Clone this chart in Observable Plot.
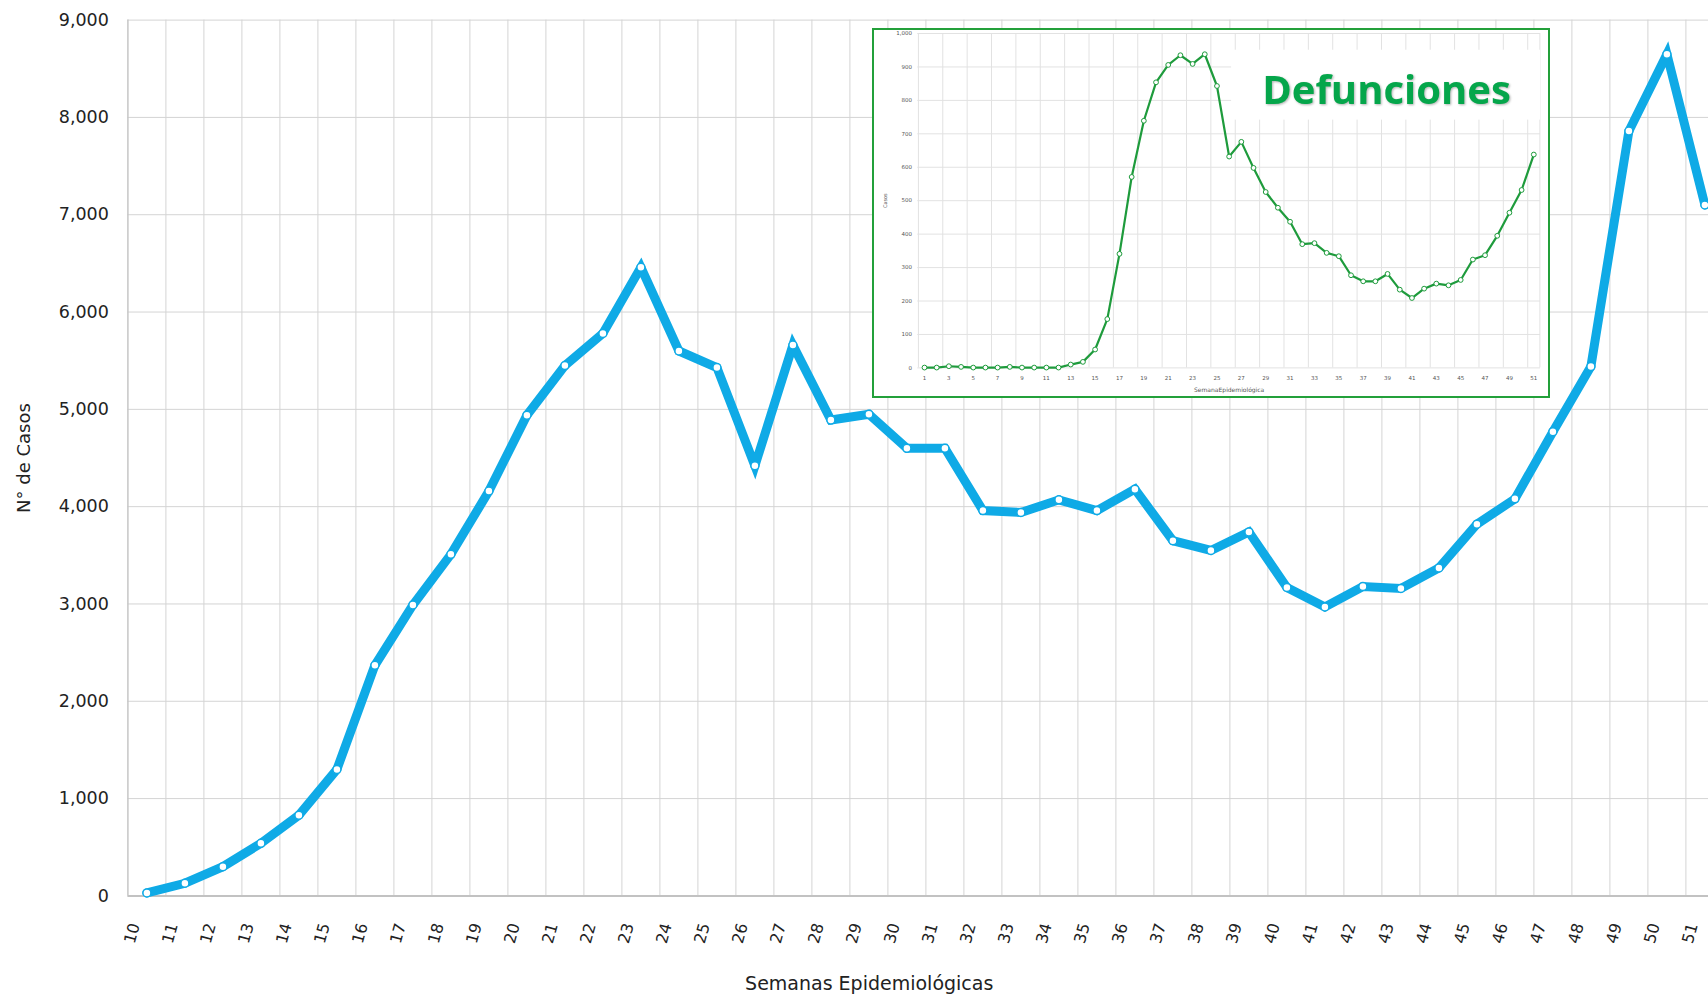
<!DOCTYPE html>
<html>
<head>
<meta charset="utf-8">
<script src="https://cdn.jsdelivr.net/npm/d3@7"></script>
<script src="https://cdn.jsdelivr.net/npm/@observablehq/plot@0.6"></script>
<style>
  html, body { margin: 0; padding: 0; background: #fff; overflow: hidden; }
  #wrap { position: relative; width: 1708px; height: 995px; overflow: hidden; background: #fff; }
  #main { position: absolute; left: 0; top: 0; }
  #inset { position: absolute; left: 871.7px; top: 28.3px; width: 678.3px; height: 370px; background: #fff; }
  #insetBorder { position: absolute; left: 871.7px; top: 28.3px; width: 678.3px; height: 370px;
    box-sizing: border-box; border: 2.5px solid #23A03A; pointer-events: none; }
  svg { display: block; }
</style>
</head>
<body>
<div id="wrap">
  <div id="main"></div>
  <div id="inset"></div>
  <div id="insetBorder"></div>
</div>
<script>
// ---- Main chart data: confirmed cases per epidemiological week ----
const weeks = [10,11,12,13,14,15,16,17,18,19,20,21,22,23,24,25,26,27,28,29,30,31,32,33,34,35,36,37,38,39,40,41,42,43,44,45,46,47,48,49,50,51];
const cases = [30,130,300,540,830,1300,2370,2990,3510,4160,4940,5450,5780,6460,5600,5430,4420,5660,4890,4950,4600,4600,3960,3940,4070,3960,4180,3650,3550,3740,3170,2970,3180,3160,3370,3820,4080,4770,5440,7860,8650,7100];
const yTicks = [0,1000,2000,3000,4000,5000,6000,7000,8000,9000];
const yTitle = "N° de Casos";
const xTitle = "Semanas Epidemiológicas";

// ---- Inset data: deaths per epidemiological week ----
const deathWeeks = [1,2,3,4,5,6,7,8,9,10,11,12,13,14,15,16,17,18,19,20,21,22,23,24,25,26,27,28,29,30,31,32,33,34,35,36,37,38,39,40,41,42,43,44,45,46,47,48,49,50,51];
const deaths = [1,1,5,3,1,1,1,3,1,1,1,1,10,18,55,146,341,571,739,854,906,935,909,938,843,632,676,598,526,479,437,370,373,344,334,277,259,259,281,234,209,237,252,247,263,324,337,395,464,532,638];
const deathTicks = [0,100,200,300,400,500,600,700,800,900,1000];
const deathXLabels = [1,3,5,7,9,11,13,15,17,19,21,23,25,27,29,31,33,35,37,39,41,43,45,47,49,51];
const insetTitle = "Defunciones";
const insetXTitle = "SemanaEpidemiológica";
const insetYTitle = "Casos";

const rows = weeks.map((w, i) => ({week: w, cases: cases[i]}));
const drows = deathWeeks.map((w, i) => ({week: w, deaths: deaths[i]}));

const blue = "#0FAAE6";
const green = "#1E9B3C";

// ---- Main plot ----
const W = 1708, H = 995;
const mL = 127.4, mT = 19.6, mB = 99.6;
const band = 38.0;
const main = Plot.plot({
  width: W, height: H,
  marginLeft: mL, marginRight: 0, marginTop: mT, marginBottom: mB,
  style: {fontFamily: "DejaVu Sans", fontSize: "17.5px", color: "#222", background: "white"},
  x: {type: "linear", domain: [weeks[0] - 0.5, weeks[0] - 0.5 + (W - mL) / band], axis: null},
  y: {domain: [0, 9000], ticks: yTicks, tickFormat: d3.format(","), tickSize: 0, tickPadding: 19, label: null},
  marks: [
    Plot.ruleY(yTicks.slice(1), {stroke: "#d4d4d4", strokeWidth: 1}),
    Plot.ruleX(weeks.map(w => w + 0.5), {stroke: "#d4d4d4", strokeWidth: 1}),
    Plot.ruleX([weeks[0] - 0.5], {stroke: "#c6c6c6", strokeWidth: 1.5}),
    Plot.ruleY([0], {stroke: "#c2c2c2", strokeWidth: 2}),
    Plot.text(weeks, {x: d => d, y: 0, text: d => String(d), rotate: -75, textAnchor: "end",
      lineAnchor: "middle", dx: -12, dy: 27.6, fontSize: 16, fill: "#222"}),
    Plot.text([yTitle], {frameAnchor: "left", rotate: -90, textAnchor: "middle", lineAnchor: "middle",
      dx: -103.4, fontSize: 18, fill: "#222"}),
    Plot.text([xTitle], {frameAnchor: "bottom", textAnchor: "middle", dx: -49, dy: 88.2, lineAnchor: "middle", fontSize: 19, fill: "#222"}),
    Plot.line(rows, {x: "week", y: "cases", stroke: blue, strokeWidth: 9, strokeLinejoin: "miter", strokeMiterlimit: 4}),
    Plot.dot(rows, {x: "week", y: "cases", r: 4, fill: "white", stroke: blue, strokeWidth: 1.5})
  ]
});
document.getElementById("main").appendChild(main);

// ---- Inset plot ----
const iW = 678, iH = 370;
const iL = 45.3, iR = 668, iT = 5.0, iB = 339.4;
const inset = Plot.plot({
  width: iW, height: iH,
  marginLeft: iL, marginRight: iW - iR, marginTop: iT, marginBottom: iH - iB,
  style: {fontFamily: "DejaVu Sans", fontSize: "5.5px", color: "#555", background: "white"},
  x: {type: "linear", domain: [0.45, 51.55], axis: null},
  y: {domain: [0, 1000], ticks: deathTicks, tickFormat: d3.format(","), tickSize: 0, tickPadding: 5.7, label: null},
  marks: [
    Plot.ruleY(deathTicks, {stroke: "#e2e2e2", strokeWidth: 1}),
    Plot.ruleX(deathXLabels.map(w => w - 0.5).concat([51.5]), {stroke: "#e2e2e2", strokeWidth: 1}),
    Plot.rect([{x1: 26.2, x2: 51.55, y1: 741, y2: 950}], {x1: "x1", x2: "x2", y1: "y1", y2: "y2", fill: "white"}),
    Plot.text(deathXLabels, {x: d => d, y: 0, text: d => String(d), dy: 10, fontSize: 5.5, fill: "#555"}),
    Plot.text([insetXTitle], {frameAnchor: "bottom", textAnchor: "middle", dy: 24, fontSize: 6, fill: "#555"}),
    Plot.text([insetYTitle], {frameAnchor: "left", rotate: -90, textAnchor: "middle", lineAnchor: "middle",
      dx: -32, fontSize: 5, fill: "#555"}),
    Plot.line(drows, {x: "week", y: "deaths", stroke: green, strokeWidth: 2.2}),
    Plot.dot(drows, {x: "week", y: "deaths", r: 2.4, fill: "white", stroke: green, strokeWidth: 1}),
    Plot.text([insetTitle], {frameAnchor: "top-right", textAnchor: "end", lineAnchor: "bottom",
      dx: -29.7, dy: 70, fontSize: 40, fontWeight: "bold", fontFamily: "Open Sans", fill: "#05A64B"})
  ]
});
document.getElementById("inset").appendChild(inset);
d3.select(inset).selectAll("text").filter(function() { return this.textContent === insetTitle; })
  .style("filter", "drop-shadow(1px 1.5px 1px rgba(0,0,0,0.3))");
</script>
</body>
</html>
